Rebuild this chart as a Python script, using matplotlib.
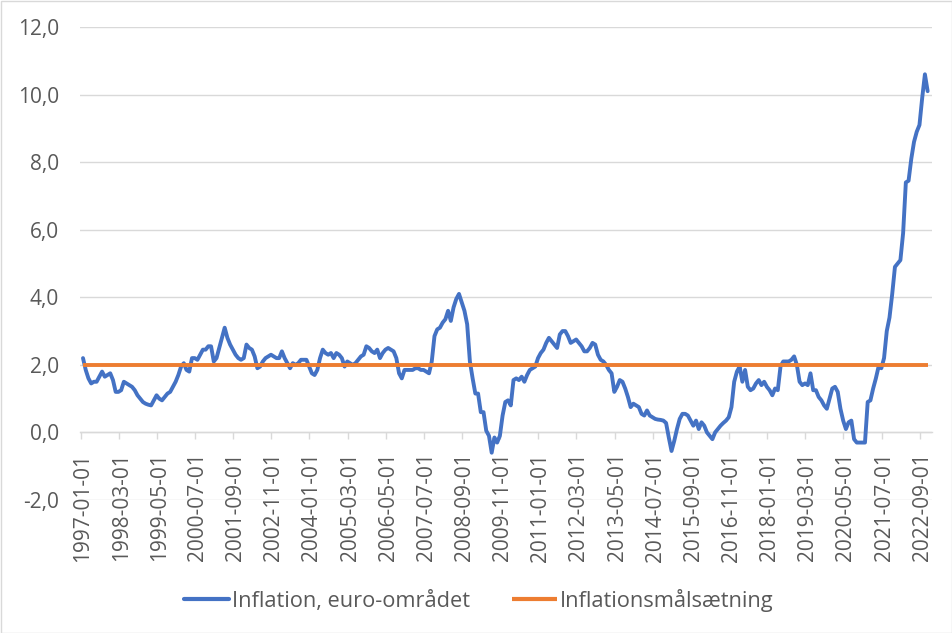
import matplotlib
matplotlib.use("Agg")
import matplotlib.pyplot as plt
from matplotlib.patches import Rectangle
from matplotlib.ticker import FixedLocator
import pandas as pd

plt.rcParams['font.family'] = ['Open Sans', 'DejaVu Sans']

# ---------------- data ----------------
months = pd.date_range("1997-01-01", "2022-11-01", freq="MS")

y1997 = [2.2, 1.85, 1.6, 1.45, 1.5, 1.5, 1.65, 1.8, 1.65, 1.7, 1.75, 1.55]
y1998 = [1.2, 1.2, 1.25, 1.5, 1.45, 1.4, 1.35, 1.25, 1.1, 1.0, 0.9, 0.85]
y1999 = [0.82, 0.8, 0.95, 1.1, 1.0, 0.95, 1.05, 1.15, 1.2, 1.35, 1.5, 1.7]
y2000 = [1.95, 2.05, 1.85, 1.8, 2.2, 2.2, 2.15, 2.3, 2.45, 2.45, 2.55, 2.55]
y2001 = [2.1, 2.2, 2.5, 2.8, 3.1, 2.8, 2.6, 2.45, 2.3, 2.2, 2.15, 2.2]
y2002 = [2.6, 2.5, 2.45, 2.25, 1.9, 1.95, 2.1, 2.2, 2.25, 2.3, 2.25, 2.2]
y2003 = [2.2, 2.4, 2.2, 2.05, 1.9, 2.05, 2.0, 2.05, 2.15, 2.15, 2.15, 1.95]
y2004 = [1.75, 1.7, 1.85, 2.2, 2.45, 2.35, 2.3, 2.35, 2.2, 2.35, 2.3, 2.2]
y2005 = [1.95, 2.1, 2.05, 2.0, 2.05, 2.15, 2.25, 2.3, 2.55, 2.5, 2.4, 2.35]
y2006 = [2.45, 2.2, 2.35, 2.45, 2.5, 2.45, 2.4, 2.2, 1.75, 1.6, 1.85, 1.85]
y2007 = [1.85, 1.85, 1.9, 1.9, 1.85, 1.85, 1.8, 1.75, 2.1, 2.85, 3.05, 3.1]
y2008 = [3.25, 3.35, 3.6, 3.3, 3.7, 3.95, 4.1, 3.85, 3.6, 3.2, 2.1, 1.6]
y2009 = [1.15, 1.15, 0.6, 0.6, 0.05, -0.1, -0.6, -0.15, -0.3, -0.1, 0.5, 0.9]
y2010 = [0.95, 0.8, 1.55, 1.6, 1.55, 1.65, 1.5, 1.7, 1.85, 1.9, 1.95, 2.2]
y2011 = [2.35, 2.45, 2.65, 2.8, 2.7, 2.6, 2.5, 2.9, 3.0, 3.0, 2.85, 2.65]
y2012 = [2.7, 2.75, 2.65, 2.55, 2.4, 2.4, 2.5, 2.65, 2.6, 2.3, 2.15, 2.1]
y2013 = [2.0, 1.85, 1.75, 1.2, 1.35, 1.55, 1.5, 1.3, 1.05, 0.75, 0.85, 0.8]
y2014 = [0.75, 0.55, 0.5, 0.65, 0.5, 0.45, 0.4, 0.38, 0.37, 0.35, 0.28, -0.15]
y2015 = [-0.55, -0.25, 0.1, 0.4, 0.55, 0.55, 0.5, 0.35, 0.2, 0.35, 0.1, 0.3]
y2016 = [0.2, 0.0, -0.1, -0.2, 0.0, 0.1, 0.2, 0.28, 0.35, 0.45, 0.75, 1.5]
y2017 = [1.8, 1.95, 1.5, 1.85, 1.35, 1.25, 1.3, 1.45, 1.55, 1.4, 1.5, 1.35]
y2018 = [1.25, 1.1, 1.3, 1.25, 1.95, 2.1, 2.1, 2.1, 2.15, 2.25, 2.0, 1.5]
y2019 = [1.4, 1.45, 1.4, 1.75, 1.25, 1.25, 1.05, 0.95, 0.8, 0.7, 1.0, 1.3]
y2020 = [1.35, 1.2, 0.7, 0.35, 0.1, 0.3, 0.35, -0.2, -0.3, -0.3, -0.3, -0.3]
y2021 = [0.9, 0.95, 1.3, 1.6, 1.95, 1.9, 2.2, 3.0, 3.4, 4.1, 4.9, 5.0]
y2022 = [5.1, 5.9, 7.4, 7.45, 8.1, 8.6, 8.9, 9.1, 9.9, 10.6, 10.1]

inflation = (y1997 + y1998 + y1999 + y2000 + y2001 + y2002 + y2003 + y2004
             + y2005 + y2006 + y2007 + y2008 + y2009 + y2010 + y2011 + y2012
             + y2013 + y2014 + y2015 + y2016 + y2017 + y2018 + y2019 + y2020
             + y2021 + y2022)
target_value = 2.0

tick_labels = ["1997-01-01", "1998-03-01", "1999-05-01", "2000-07-01",
               "2001-09-01", "2002-11-01", "2004-01-01", "2005-03-01",
               "2006-05-01", "2007-07-01", "2008-09-01", "2009-11-01",
               "2011-01-01", "2012-03-01", "2013-05-01", "2014-07-01",
               "2015-09-01", "2016-11-01", "2018-01-01", "2019-03-01",
               "2020-05-01", "2021-07-01", "2022-09-01"]
y_ticks = [-2, 0, 2, 4, 6, 8, 10, 12]

series_names = ["Inflation, euro-området", "Inflationsmålsætning"]

# ---------------- plot ----------------
W, H = 953, 633
fig = plt.figure(figsize=(W / 100, H / 100), dpi=100)
ax = fig.add_axes([80 / W, 1 - 500 / H, 852 / W, 473 / H])

grey_txt = '#595959'
grid_c = '#d9d9d9'

# spine position first (it resets ticks)
for s in ['top', 'right', 'left']:
    ax.spines[s].set_visible(False)
ax.spines['bottom'].set_position(('data', 0))
ax.spines['bottom'].set_color(grid_c)
ax.spines['bottom'].set_linewidth(1.0)

x = list(range(len(months)))
ax.plot(x, inflation, color='#4472c4', lw=2.8, solid_joinstyle='round',
        solid_capstyle='round', label=series_names[0], zorder=3)
ax.plot(x, [target_value] * len(x), color='#ed7d31', lw=2.8,
        solid_capstyle='butt', label=series_names[1], zorder=4)

ax.set_xlim(-1.1, 311.6)
ax.set_ylim(-2, 12)

ax.set_yticks(y_ticks)
ax.set_yticklabels([f"{v:.1f}".replace('.', ',') for v in y_ticks])
ax.yaxis.grid(True, color=grid_c, lw=1.0, zorder=0)
ax.set_axisbelow(True)

label_pos = [months.get_loc(pd.Timestamp(t)) for t in tick_labels]
ax.xaxis.set_major_locator(FixedLocator(label_pos))
ax.xaxis.set_minor_locator(FixedLocator([p - 0.9 for p in label_pos]))
ax.set_xticklabels(tick_labels)

ax.tick_params(axis='y', length=0, pad=15, labelsize=15, labelcolor=grey_txt)
ax.tick_params(axis='x', which='major', length=0, pad=14.5, labelsize=15,
               labelcolor=grey_txt, labelrotation=90)
ax.tick_params(axis='x', which='minor', length=5, width=1.0, color=grid_c,
               direction='out')
for lab in ax.get_xticklabels():
    lab.set_ha('center')
    lab.set_va('top')

leg = fig.legend(loc='center', bbox_to_anchor=(479 / W, 1 - 600 / H), ncol=2,
                 frameon=False, fontsize=15.7, handlelength=2.07,
                 handletextpad=0.15, columnspacing=1.9)
for t in leg.get_texts():
    t.set_color(grey_txt)
for h in leg.get_lines():
    h.set_linewidth(3.0)

fig.patches.append(Rectangle((0.5 / W, 0.5 / H), 1 - 1.5 / W, 1 - 1.5 / H,
                             transform=fig.transFigure, fill=False,
                             edgecolor=grid_c, lw=1.0))

fig.savefig("out.png", dpi=100, facecolor='white')
